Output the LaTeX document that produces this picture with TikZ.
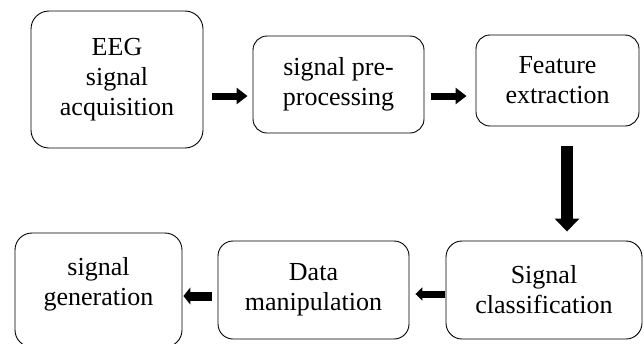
\documentclass[tikz,border=0pt]{standalone}
\usepackage{fontspec}
\setmainfont{Liberation Serif}
\usetikzlibrary{arrows.meta}
\tikzset{
  box/.style={draw, line width=0.9pt, inner sep=0pt, align=center,
    font=\fontsize{26}{30}\selectfont},
  fat/.style={line width=7pt, -{Triangle[length=11pt,width=16pt]}},
  txt/.style={inner sep=0pt, align=center, font=\fontsize{26}{30}\selectfont}
}
\begin{document}
\begin{tikzpicture}[x=1pt,y=-1pt]
\useasboundingbox (0,0) rectangle (644,343);
\clip (0,0) rectangle (644,343);
\node[box, rounded corners=18pt, minimum width=172pt, minimum height=137pt] (b1) at (117,79.5) {EEG\\signal\\acquisition};
\node[box, rounded corners=14pt, minimum width=171pt, minimum height=97pt] (b2) at (338.5,84.5) {signal pre-\\processing};
\node[box, rounded corners=14pt, minimum width=163pt, minimum height=91pt] (b3) at (557.5,80.5) {Feature\\extraction};
\node[box, rounded corners=16pt, minimum width=196pt, minimum height=98pt] (b6) at (544,290) {Signal\\classification};
\node[box, rounded corners=15pt, minimum width=191pt, minimum height=98pt] (b5) at (313.5,290) {Data\\manipulation};
\node[box, rounded corners=17pt, minimum width=167pt, minimum height=114pt] (b4) at (98.5,290) {};
\node[txt] (t4) at (98.5,284) {signal\\generation};
\draw[fat, shorten <=9pt, shorten >=5pt] (b1.east |- 0,96) -- (b2.west |- 0,96);
\draw[fat, shorten <=7pt, shorten >=9pt] (b2.east |- 0,96) -- (b3.west |- 0,96);
\draw[line width=12pt, -{Triangle[length=13pt,width=24pt]}, shorten <=20pt, shorten >=9pt] (b3.south -| 567,0) -- (b6.north -| 567,0);
\draw[line width=7pt, -{Triangle[length=7pt,width=13pt]}, shorten <=1pt, shorten >=6pt] (b6.west |- 0,294) -- (b5.east |- 0,294);
\draw[line width=9pt, -{Triangle[length=7pt,width=17pt]}, shorten <=6pt, shorten >=1pt] (b5.west |- 0,296) -- (b4.east |- 0,296);
\end{tikzpicture}
\end{document}
